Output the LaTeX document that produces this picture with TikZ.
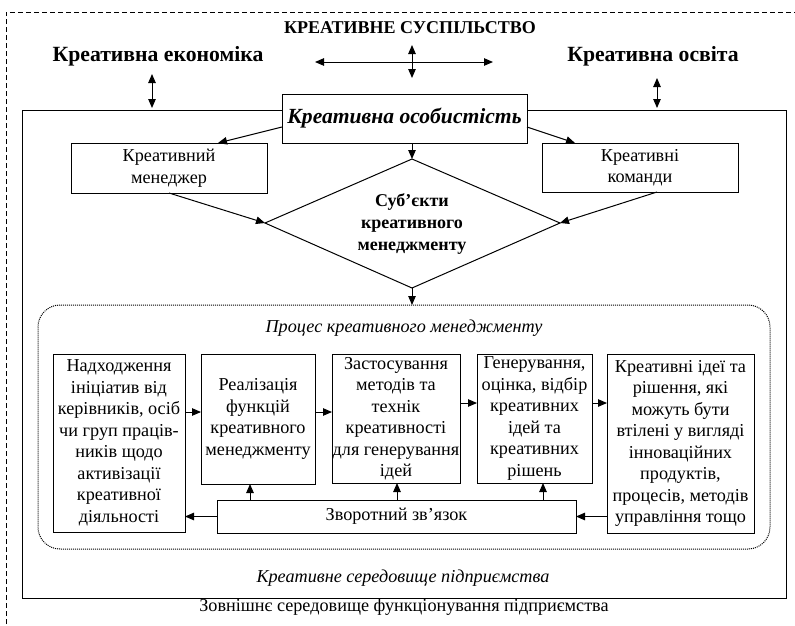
\documentclass[tikz,border=0pt]{standalone}
\usepackage{fontspec}
\setmainfont{Liberation Serif}
\usetikzlibrary{arrows.meta}
\begin{document}
\begin{tikzpicture}[x=1pt,y=-1pt,
  every node/.style={inner sep=0pt, outer sep=0pt},
  ln/.style={line width=1pt},
  arr/.style={ln,-{Triangle[length=9pt,width=7.5pt]}},
  darr/.style={ln,{Triangle[length=9pt,width=7.5pt]}-{Triangle[length=9pt,width=7.5pt]}},
  txt/.style={font=\fontsize{18.2}{21.5}\selectfont},
  box/.style={draw, line width=1pt, fill=white, align=center, font=\fontsize{18.2}{21.5}\selectfont},
  head/.style={font=\bfseries\fontsize{21.7}{24}\selectfont},
]
\useasboundingbox (0,0) rectangle (795,625);

% outer dashed border (society)
\draw[ln, dash pattern=on 5pt off 3pt] (6,640) -- (6,12) -- (810,12);

% inner enterprise rectangle
\draw[ln] (22,110) rectangle (786,598);

% top labels
\node[font=\bfseries\fontsize{18}{20}\selectfont] (soc) at (410,28) {КРЕАТИВНЕ СУСПІЛЬСТВО};
\node[head] (econ) at (158,56) {Креативна економіка};
\node[head] (osv) at (653,56) {Креативна освіта};

% double arrows
\coordinate (hl) at (315,62);
\coordinate (hr) at (493,62);
\coordinate (vt) at (412,45);
\coordinate (vb) at (412,78);
\draw[darr] (hl) -- (hr);
\draw[darr] (vt) -- (vb);
\coordinate (el) at (152,74);
\coordinate (eb) at (152,108);
\draw[darr] (el) -- (eb);
\coordinate (ol) at (657,78);
\coordinate (ob) at (657,108);
\draw[darr] (ol) -- (ob);

% person and subjects
\node[box, minimum width=245, minimum height=49, font=\bfseries\itshape\fontsize{21.6}{24}\selectfont] (pers) at (404.5,118.5) {Креативна особистість};
\node[box, minimum width=196, minimum height=50] (mgr) at (169,168) {Креативний\\менеджер};
\node[box, minimum width=196, minimum height=49] (team) at (640,167.5) {Креативні\\команди};

\coordinate (dt) at (412,159);
\coordinate (dl) at (265,223);
\coordinate (dr) at (560,223);
\coordinate (db) at (412,288);
\draw[ln] (dt) -- (dr) -- (db) -- (dl) -- cycle;
\node[align=center, font=\bfseries\fontsize{18}{22}\selectfont] (subj) at (412,224) {Суб’єкти\\креативного\\менеджменту};

\draw[arr] ([yshift=-8.5pt]pers.west) -- ([xshift=49pt]mgr.north);
\draw[arr] ([yshift=-8.5pt]pers.east) -- ([xshift=-65pt]team.north);
\draw[arr] (dt |- pers.south) -- (dt);
\draw[arr] (mgr.south) -- (dl);
\draw[arr] ([xshift=17pt]team.south) -- (dr);

% process
\node[draw, line width=1pt, dash pattern=on 1pt off 1pt, rounded corners=22pt, minimum width=732, minimum height=244] (proc) at (404,427) {};
\draw[arr] (db) -- (db |- proc.north);
\node[font=\itshape\fontsize{18.2}{21.5}\selectfont] (ptitle) at (404,328) {Процес креативного менеджменту};

\node[box, minimum width=132, minimum height=178] (b1) at (119,443) {Надходження\\ініціатив від\\керівників, осіб\\чи груп праців-\\ників щодо\\активізації\\креативної\\діяльності};
\node[box, minimum width=114, minimum height=130] (b2) at (258,419) {Реалізація\\функцій\\креативного\\менеджменту};
\node[box, minimum width=128, minimum height=129] (b3) at (396,418.5) {Застосування\\методів та\\технік\\креативності\\для генерування\\ідей};
\node[box, minimum width=115, minimum height=129] (b4) at (534.5,418.5) {Генерування,\\оцінка, відбір\\креативних\\ідей та\\креативних\\рішень};
\node[box, minimum width=147, minimum height=179] (b5) at (680.5,443.5) {Креативні ідеї та\\рішення, які\\можуть бути\\втілені у вигляді\\інноваційних\\продуктів,\\процесів, методів\\управління тощо};
\node[box, minimum width=359, minimum height=33] (fb) at (396.5,516.5) {Зворотний зв’язок};

\coordinate (ya) at (0,412);
\coordinate (yb) at (0,403);
\draw[arr] (b1.east |- ya) -- (b2.west |- ya);
\draw[arr] (b2.east |- ya) -- (b3.west |- ya);
\draw[arr] (b3.east |- yb) -- (b4.west |- yb);
\draw[arr] (b4.east |- yb) -- (b5.west |- yb);

\coordinate (x2) at (250,0);
\coordinate (x3) at (397,0);
\coordinate (x4) at (543,0);
\draw[arr] (x2 |- fb.north) -- (x2 |- b2.south);
\draw[arr] (x3 |- fb.north) -- (x3 |- b3.south);
\draw[arr] (x4 |- fb.north) -- (x4 |- b4.south);
\draw[arr] (fb.west) -- (fb.west -| b1.east);
\draw[arr] (b5.west |- fb.east) -- (fb.east);

% environment labels
\node[font=\itshape\fontsize{18.2}{21.5}\selectfont] (env) at (403,578) {Креативне середовище підприємства};
\node[txt] (ext) at (404,607) {Зовнішнє середовище функціонування підприємства};
\end{tikzpicture}
\end{document}
